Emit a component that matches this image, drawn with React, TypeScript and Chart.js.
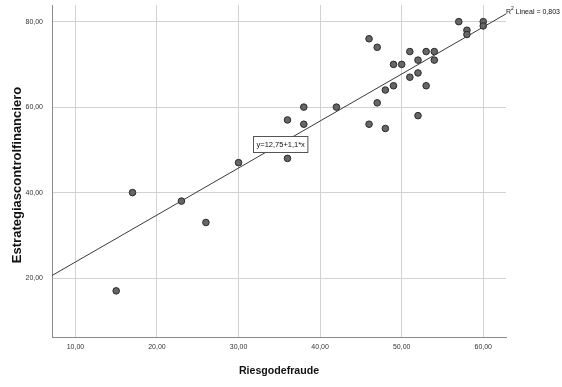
import { useEffect, useRef } from 'react';
import { Chart, registerables } from 'chart.js';

Chart.register(...registerables);

// Riesgo de fraude (x) and Estrategias control financiero (y)
const riesgoDeFraude = [15, 17, 23, 26, 30, 36, 36, 38, 38, 42, 46, 46, 47, 47, 48, 48, 49, 49, 50, 51, 51, 52, 52, 52, 53, 53, 54, 54, 57, 58, 58, 60, 60];
const estrategiasControl = [17, 40, 38, 33, 47, 57, 48, 60, 56, 60, 76, 56, 74, 61, 64, 55, 70, 65, 70, 73, 67, 71, 68, 58, 73, 65, 73, 71, 80, 78, 77, 80, 79];

const xTickValues = [10, 20, 30, 40, 50, 60];
const yTickValues = [20, 40, 60, 80];
const xRange = [7.13, 62.79];
const yRange = [6.2, 83.9];

const fitIntercept = 12.75;
const fitSlope = 1.1;
const rSquared = 0.803;
const equationAnchorX = 35.1;

const xTitle = 'Riesgodefraude';
const yTitle = 'Estrategiascontrolfinanciero';

const FONT = "'Liberation Sans', Arial, sans-serif";
const fmt2 = (v: number) => v.toFixed(2).replace('.', ',');
const fmtNum = (v: number) => String(v).replace('.', ',');
const fitY = (x: number) => fitIntercept + fitSlope * x;

const fitLabelsPlugin = {
  id: 'fitLabels',
  afterDatasetsDraw(chart: any) {
    const { ctx, scales, chartArea } = chart;
    const xs = scales.x;
    const ys = scales.y;
    ctx.save();
    // equation label box
    const eq = `y=${fmtNum(fitIntercept)}+${fmtNum(fitSlope)}*x`;
    ctx.font = `7.5px ${FONT}`;
    const w = ctx.measureText(eq).width;
    const cx = xs.getPixelForValue(equationAnchorX);
    const cy = ys.getPixelForValue(fitY(equationAnchorX));
    const bw = w + 6;
    const bh = 16;
    const bx = Math.round(cx - bw / 2) + 0.5;
    const by = Math.round(cy - bh / 2) + 0.5;
    ctx.fillStyle = '#ffffff';
    ctx.fillRect(bx, by, bw, bh);
    ctx.strokeStyle = '#555555';
    ctx.lineWidth = 1;
    ctx.strokeRect(bx, by, bw, bh);
    ctx.fillStyle = '#111111';
    ctx.textAlign = 'center';
    ctx.textBaseline = 'middle';
    ctx.fillText(eq, bx + bw / 2, by + bh / 2 + 0.5);

    // R² label at the end of the fit line
    const ex = xs.getPixelForValue(xRange[1]);
    const ey = ys.getPixelForValue(fitY(xRange[1])) - 2;
    ctx.textAlign = 'left';
    ctx.textBaseline = 'middle';
    ctx.font = `7px ${FONT}`;
    let px = ex;
    ctx.fillText('R', px, ey);
    px += ctx.measureText('R').width;
    ctx.font = `5px ${FONT}`;
    ctx.fillText('2', px, ey - 3);
    px += ctx.measureText('2').width;
    ctx.font = `7px ${FONT}`;
    ctx.fillText(` Lineal = ${fmtNum(rSquared)}`, px, ey);

    // y axis title
    ctx.save();
    ctx.translate(17, (chartArea.top + chartArea.bottom) / 2 + 4);
    ctx.rotate(-Math.PI / 2);
    ctx.font = `bold 13px ${FONT}`;
    ctx.fillStyle = '#111111';
    ctx.textAlign = 'center';
    ctx.textBaseline = 'middle';
    ctx.fillText(yTitle, 0, 0);
    ctx.restore();
    ctx.restore();
  },
};

const zeroPad = (s: any) => {
  s.paddingTop = 0;
  s.paddingBottom = 0;
  s.paddingLeft = 0;
  s.paddingRight = 0;
};

export default function App() {
  const canvasRef = useRef<HTMLCanvasElement | null>(null);

  useEffect(() => {
    document.body.style.margin = '0';
    const canvas = canvasRef.current;
    if (!canvas) return;
    const points = riesgoDeFraude.map((x, i) => ({ x, y: estrategiasControl[i] }));
    const fitLine = [
      { x: xRange[0], y: fitY(xRange[0]) },
      { x: xRange[1], y: fitY(xRange[1]) },
    ];
    const chart = new Chart(canvas, {
      type: 'scatter',
      data: {
        datasets: [
          {
            data: points,
            backgroundColor: '#666666',
            borderColor: '#2a2a2a',
            borderWidth: 1,
            pointRadius: 3.3,
            order: 0,
          },
          {
            data: fitLine,
            showLine: true,
            borderColor: '#3a3a3a',
            borderWidth: 1,
            pointRadius: 0,
            order: 1,
          } as any,
        ],
      },
      options: {
        animation: false,
        responsive: false,
        devicePixelRatio: 1,
        layout: { padding: { top: 3, right: 56, left: 0, bottom: 0 } },
        plugins: {
          legend: { display: false },
          tooltip: { enabled: false },
        },
        scales: {
          x: {
            type: 'linear',
            min: xRange[0],
            max: xRange[1],
            afterBuildTicks: (s: any) => {
              s.ticks = xTickValues.map((v) => ({ value: v }));
            },
            afterFit: (s: any) => {
              s.height = 50;
              zeroPad(s);
            },
            ticks: {
              callback: (v: any) => fmt2(Number(v)),
              font: { family: FONT, size: 7 },
              color: '#333333',
              padding: 6,
              maxRotation: 0,
              autoSkip: false,
            },
            grid: { color: '#d2d2d2', drawTicks: false, lineWidth: 1 },
            border: { color: '#8a8a8a', width: 1 },
            title: {
              display: true,
              text: xTitle,
              color: '#111111',
              font: { family: FONT, size: 10.6, weight: 'bold' },
              padding: { top: 0, bottom: 10 },
            },
          },
          y: {
            type: 'linear',
            min: yRange[0],
            max: yRange[1],
            afterBuildTicks: (s: any) => {
              s.ticks = yTickValues.map((v) => ({ value: v }));
            },
            afterFit: (s: any) => {
              s.width = 52;
              zeroPad(s);
            },
            ticks: {
              callback: (v: any) => fmt2(Number(v)),
              font: { family: FONT, size: 7 },
              color: '#333333',
              padding: 9,
              autoSkip: false,
            },
            grid: { color: '#d2d2d2', drawTicks: false, lineWidth: 1 },
            border: { color: '#8a8a8a', width: 1 },
            title: { display: false },
          },
        },
      } as any,
      plugins: [fitLabelsPlugin],
    });
    return () => chart.destroy();
  }, []);

  return (
    <div style={{ position: 'absolute', left: 0, top: 0, width: 562, height: 387, background: '#ffffff' }}>
      <canvas ref={canvasRef} width={562} height={387} style={{ display: 'block' }} />
    </div>
  );
}
